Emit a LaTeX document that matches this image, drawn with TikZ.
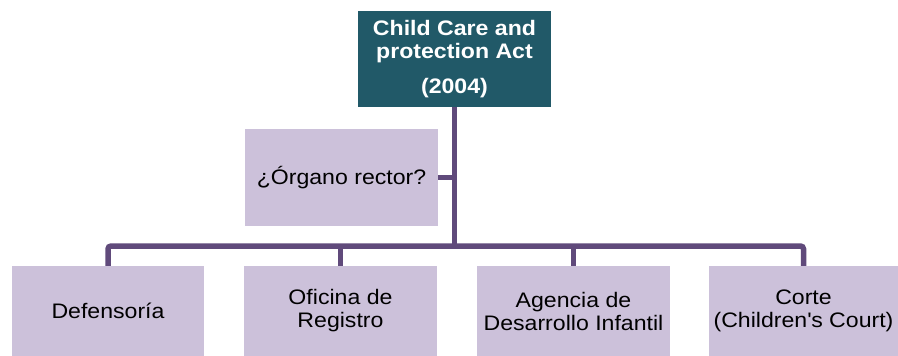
\documentclass[tikz,border=0pt]{standalone}
\usepackage{fontspec}
\setmainfont{Liberation Sans}[FakeStretch=1.1]
\definecolor{topfill}{RGB}{33,89,104}
\definecolor{boxfill}{RGB}{204,193,218}
\definecolor{linecol}{RGB}{96,74,123}
\begin{document}
\begin{tikzpicture}[x=1pt,y=1pt,
  box/.style={rectangle, fill=boxfill, draw=none, inner sep=0pt, align=center,
    font=\fontsize{21}{23}\selectfont, text=black},
  topbox/.style={rectangle, fill=topfill, draw=none, inner sep=0pt, align=center,
    font=\fontsize{21}{23}\selectfont\bfseries, text=white,
    minimum width=193pt, minimum height=96pt},
  conn/.style={draw=linecol, line width=5.5pt}]
\useasboundingbox (0,0) rectangle (898,-356);
\fill[white] (0,0) rectangle (898,-356);
\node[topbox] (top) at (454.5,-59) {Child Care and\\protection Act\\[12pt](2004)};
\node[box, minimum width=193pt, minimum height=97pt] (rector) at (341.5,-177.5) {¿Órgano rector?};
\node[box, minimum width=192pt, minimum height=90pt] (d1) at (108,-311) {Defensoría};
\node[box, minimum width=193pt, minimum height=90pt] (d2) at (340.5,-311) {Oficina de\\Registro};
\node[box, minimum width=193pt, minimum height=90pt] (d3) at (573.5,-311) {Agencia de\\Desarrollo Infantil};
\node[box, minimum width=189pt, minimum height=90pt] (d4) at (803.5,-311) {Corte\\(Children\textquotesingle s Court)};
\coordinate (bus) at (455,-246);
\draw[conn] (top.south) -- (top.south |- bus);
\draw[conn] (rector.east) -- (rector.east -| top.south);
\draw[conn, rounded corners=3pt] (d1.north) |- (bus) -| (d4.north);
\draw[conn] (d2.north) -- (d2.north |- bus);
\draw[conn] (d3.north) -- (d3.north |- bus);
\end{tikzpicture}
\end{document}
